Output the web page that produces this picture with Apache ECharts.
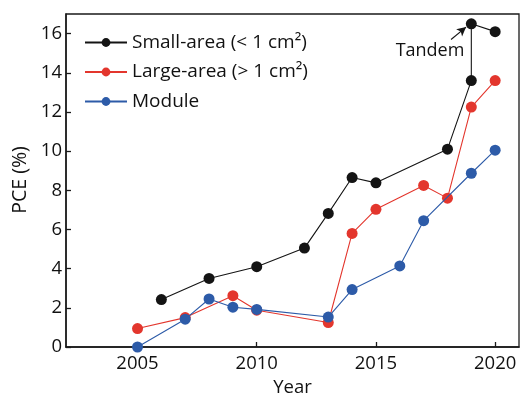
<!DOCTYPE html>
<html>
<head>
<meta charset="utf-8">
<script src="https://cdn.jsdelivr.net/npm/echarts@6/dist/echarts.min.js"></script>
<style>
  html, body { margin: 0; padding: 0; background: #fff; }
  #chart { width: 520px; height: 393px; }
</style>
</head>
<body>
<div id="chart"></div>
<script>
// PCE records by year for three device classes
const smallYears = [2006, 2008, 2010, 2012, 2013, 2014, 2015, 2018, 2019, 2019, 2020];
const smallPCE   = [2.42, 3.5, 4.1, 5.05, 6.82, 8.65, 8.38, 10.1, 13.6, 16.5, 16.1];

const largeYears = [2005, 2007, 2009, 2010, 2013, 2014, 2015, 2017, 2018, 2019, 2020];
const largePCE   = [0.94, 1.5, 2.62, 1.88, 1.25, 5.8, 7.03, 8.25, 7.6, 12.25, 13.6];

const moduleYears = [2005, 2007, 2008, 2009, 2010, 2013, 2014, 2016, 2017, 2019, 2020];
const modulePCE   = [0.0, 1.42, 2.45, 2.03, 1.92, 1.53, 2.93, 4.14, 6.45, 8.87, 10.05];

const yearTicks = [2005, 2010, 2015, 2020];
const pceTicks  = [0, 2, 4, 6, 8, 10, 12, 14, 16];

const seriesNames = ['Small-area (< 1 cm\u00B2)', 'Large-area (> 1 cm\u00B2)', 'Module'];
const colors = ['#141414', '#e3362d', '#2d5ba8'];

const FONT = 'Open Sans';
const pairs = (xs, ys) => xs.map((x, i) => [x, ys[i]]);

const chart = echarts.init(document.getElementById('chart'), null, { renderer: 'canvas' });

function lineSeries(idx, data, extra) {
  return Object.assign({
    name: seriesNames[idx],
    type: 'line',
    data: data,
    symbol: 'circle',
    symbolSize: 11,
    showAllSymbol: true,
    lineStyle: { color: colors[idx], width: 1.1 },
    itemStyle: { color: colors[idx], borderWidth: 0 },
    emphasis: { disabled: true },
    animation: false
  }, extra || {});
}

chart.setOption({
  animation: false,
  textStyle: { fontFamily: FONT },
  grid: {
    left: 66, right: 1, top: 14, bottom: 46,
    outerBoundsMode: 'none',
    containLabel: false,
    show: true, borderColor: '#1a1a1a', borderWidth: 1.3, backgroundColor: 'transparent'
  },
  legend: {
    left: 84, top: 33,
    padding: 0,
    orient: 'vertical',
    itemWidth: 42, itemHeight: 11, itemGap: 10.5,
    textStyle: { fontFamily: FONT, fontSize: 19, color: '#111' },
    data: seriesNames
  },
  xAxis: {
    type: 'value', min: 2002, max: 2021,
    name: 'Year', nameLocation: 'middle', nameGap: 29,
    nameTextStyle: { fontFamily: FONT, fontSize: 18.5, color: '#111' },
    axisLine: { show: true, lineStyle: { color: '#1a1a1a', width: 1.5 } },
    axisTick: { show: true, inside: true, length: 5, customValues: yearTicks, lineStyle: { color: '#1a1a1a', width: 1.3 } },
    axisLabel: { customValues: yearTicks, formatter: v => String(v), fontFamily: FONT, fontSize: 18.5, color: '#111', margin: 7 },
    splitLine: { show: false }
  },
  yAxis: {
    type: 'value', min: 0, max: 17,
    axisLine: { show: true, lineStyle: { color: '#1a1a1a', width: 1.5 } },
    axisTick: { show: true, inside: true, length: 5, customValues: pceTicks, lineStyle: { color: '#1a1a1a', width: 1.3 } },
    axisLabel: { customValues: pceTicks, formatter: v => String(v), fontFamily: FONT, fontSize: 18.5, color: '#111', margin: 4 },
    splitLine: { show: false }
  },
  graphic: [
    {
      type: 'text', x: 20, y: 180, rotation: Math.PI / 2,
      style: { text: 'PCE (%)', font: '19.5px "Open Sans"', fill: '#111', textAlign: 'center', textVerticalAlign: 'middle' }
    },
    {
      type: 'text', x: 430, y: 51,
      style: { text: 'Tandem', font: '18px "Open Sans"', fill: '#111', textAlign: 'center', textVerticalAlign: 'middle' }
    }
  ],
  series: [
    lineSeries(0, pairs(smallYears, smallPCE), {
      z: 3,
      markLine: {
        silent: true,
        symbol: ['none', 'arrow'], symbolSize: [7, 9],
        lineStyle: { color: '#141414', width: 1.1, type: 'solid' },
        label: { show: false },
        data: [[{ coord: [2018.15, 15.7] }, { coord: [2018.78, 16.33] }]]
      }
    }),
    lineSeries(1, pairs(largeYears, largePCE), { z: 2 }),
    lineSeries(2, pairs(moduleYears, modulePCE), { z: 4 })
  ]
});
</script>
</body>
</html>
